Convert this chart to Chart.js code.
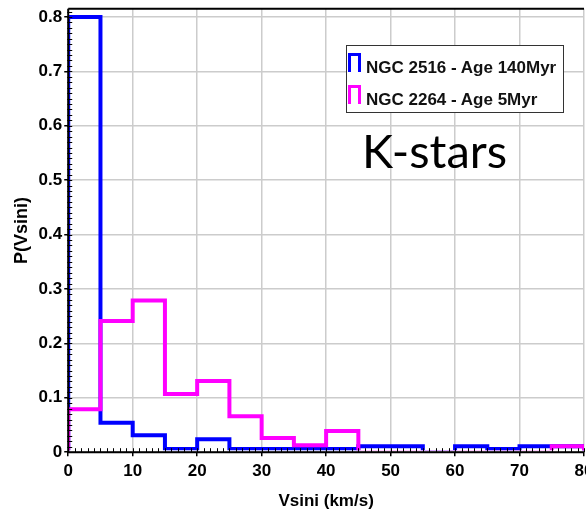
<!DOCTYPE html>
<html>
<head>
<meta charset="utf-8">
<script src="https://cdn.jsdelivr.net/npm/chart.js@4.4.1/dist/chart.umd.min.js"></script>
<style>
    html, body { margin: 0; padding: 0; background: #fff; overflow: hidden; }
    #wrap { position: relative; width: 620px; height: 512px; }
    #kstars {
        position: absolute; left: 362px; top: 122px;
        font-family: Lato, 'Open Sans', sans-serif; font-size: 47px; line-height: 56px;
        color: #000; white-space: nowrap;
    }
    #legend {
        position: absolute; left: 346px; top: 45px; width: 216px; height: 66px;
        border: 1px solid #333; background: #fff;
    }
    .item { position: absolute; left: 1px; height: 20px; }
    .sym { position: absolute; left: 0; top: -5px; width: 13px; height: 19px; box-sizing: border-box; border: 3px solid; border-bottom: none; }
    .txt {
        position: absolute; left: 18px; top: 0; line-height: 20px; white-space: nowrap;
        font-family: 'Liberation Sans', Arial, sans-serif; font-weight: bold; font-size: 17px; color: #111;
    }
</style>
</head>
<body>
<div id="wrap">
    <canvas id="histChart" width="620" height="512"></canvas>
    <div id="kstars">K-stars</div>
    <div id="legend"></div>
</div>
<script>
// bins of 5 km/s, value = fraction of stars in the bin
var binStarts = [0, 5, 10, 15, 20, 25, 30, 35, 40, 45, 50, 55, 60, 65, 70, 75];
var binWidth = 5;
var ngc2516 = [0.80, 0.054, 0.031, 0.006, 0.024, 0.006, 0.006, 0.006, 0.006, 0.011, 0.011, 0, 0.011, 0.006, 0.011, 0.011];
var ngc2264 = [0.079, 0.241, 0.279, 0.107, 0.131, 0.066, 0.026, 0.013, 0.039, 0, 0, 0, 0, 0, 0, 0.011];
var seriesNames = ['NGC 2516 - Age 140Myr', 'NGC 2264 - Age 5Myr'];
var seriesColors = ['#0000ff', '#ff00ff'];
var yTicks = [0, 0.1, 0.2, 0.3, 0.4, 0.5, 0.6, 0.7, 0.8];
var xTicks = [0, 10, 20, 30, 40, 50, 60, 70, 80];

Chart.defaults.font.family = "'Liberation Sans', Arial, sans-serif";
Chart.defaults.color = '#000';

// outline of a histogram: start at baseline, step through bins, back to baseline
function outline(values) {
    var pts = [{ x: binStarts[0], y: 0 }];
    for (var i = 0; i < values.length; i++) {
        pts.push({ x: binStarts[i], y: values[i] });
    }
    var end = binStarts[binStarts.length - 1] + binWidth;
    pts.push({ x: end, y: values[values.length - 1] });
    pts.push({ x: end, y: 0 });
    return pts;
}

// black frame + little inner ticks, drawn over the data
var frameAndMinorTicks = {
    id: 'frameAndMinorTicks',
    afterDatasetsDraw: function (chart) {
        var ctx = chart.ctx;
        var a = chart.chartArea;
        var xs = chart.scales.x, ys = chart.scales.y;
        ctx.save();
        ctx.strokeStyle = '#000';
        ctx.lineWidth = 1;
        ctx.beginPath();
        for (var v = 0; v <= 81; v++) {
            var px = Math.round(xs.getPixelForValue(v)) + 0.5;
            ctx.moveTo(px, a.bottom);
            ctx.lineTo(px, a.bottom - 4);
        }
        for (var k = 0; k <= 81; k++) {
            var py = Math.round(ys.getPixelForValue(k / 100)) + 0.5;
            if (py < a.top) continue;
            ctx.moveTo(a.left - 1, py);
            ctx.lineTo(a.left + 4, py);
        }
        ctx.stroke();
        ctx.lineWidth = 2;
        ctx.beginPath();
        ctx.moveTo(a.left, a.top);
        ctx.lineTo(a.left, a.bottom);
        ctx.lineTo(a.right, a.bottom);
        ctx.moveTo(a.left, a.top);
        ctx.lineTo(a.right, a.top);
        ctx.stroke();
        ctx.restore();
    }
};

var ctxHist = document.getElementById('histChart').getContext('2d');
var histChart = new Chart(ctxHist, {
    type: 'line',
    data: {
        datasets: [{
            label: seriesNames[0],
            data: outline(ngc2516),
            borderColor: seriesColors[0],
            borderWidth: 4,
            stepped: true,
            pointRadius: 0,
            fill: false,
            order: 1,
            clip: { left: 0, top: 0, right: 0, bottom: -2 }
        }, {
            label: seriesNames[1],
            data: outline(ngc2264),
            borderColor: seriesColors[1],
            borderWidth: 4,
            stepped: true,
            pointRadius: 0,
            fill: false,
            order: 0,
            clip: { left: 0, top: 0, right: 0, bottom: -2 }
        }]
    },
    options: {
        responsive: false,
        animation: false,
        layout: { padding: { left: 7, right: 36, top: 7, bottom: 0 } },
        plugins: {
            legend: { display: false },
            tooltip: { enabled: false }
        },
        scales: {
            x: {
                type: 'linear',
                min: 0,
                max: 80,
                afterBuildTicks: function (scale) {
                    scale.ticks = xTicks.map(function (v) { return { value: v }; });
                },
                ticks: {
                    font: { size: 17, weight: 'bold' },
                    padding: 5,
                    maxRotation: 0,
                    callback: function (v) { return String(v); }
                },
                grid: { color: '#cccccc', lineWidth: 1.5, tickColor: '#000', tickLength: 4 },
                border: { display: false },
                title: {
                    display: true,
                    text: 'Vsini (km/s)',
                    font: { size: 17, weight: 'bold' },
                    padding: { top: 5, bottom: 0 }
                }
            },
            y: {
                type: 'linear',
                min: 0,
                max: 0.815,
                afterBuildTicks: function (scale) {
                    scale.ticks = yTicks.map(function (v) { return { value: v }; });
                },
                ticks: {
                    font: { size: 17, weight: 'bold', lineHeight: 0.8 },
                    padding: 2,
                    callback: function (v) { return v === 0 ? '0' : v.toFixed(1); }
                },
                grid: { color: '#cccccc', lineWidth: 1.5, tickColor: '#000', tickLength: 4 },
                border: { display: false },
                title: {
                    display: true,
                    text: 'P(Vsini)',
                    font: { size: 18, weight: 'bold' },
                    padding: { top: 4, bottom: 4 }
                }
            }
        }
    },
    plugins: [frameAndMinorTicks]
});

// legend box inside the plot
var legend = document.getElementById('legend');
seriesNames.forEach(function (name, i) {
    var item = document.createElement('div');
    item.className = 'item';
    item.style.top = (12 + i * 32) + 'px';
    var sym = document.createElement('div');
    sym.className = 'sym';
    sym.style.borderColor = seriesColors[i];
    var txt = document.createElement('div');
    txt.className = 'txt';
    txt.textContent = name;
    item.appendChild(sym);
    item.appendChild(txt);
    legend.appendChild(item);
});
</script>
</body>
</html>
